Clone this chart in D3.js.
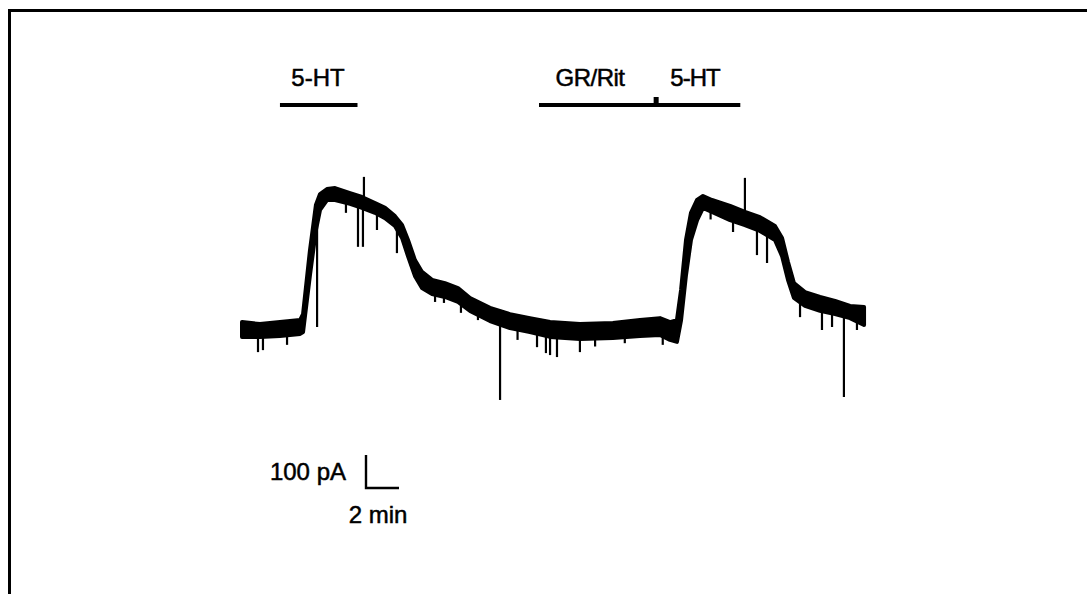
<!DOCTYPE html>
<html>
<head>
<meta charset="utf-8">
<script src="https://cdn.jsdelivr.net/npm/d3@7"></script>
<style>
  html, body { margin: 0; padding: 0; background: #fff; }
  svg { display: block; }
</style>
</head>
<body>
<svg id="chart" width="1087" height="594"></svg>
<script>
// ---- Data (time in minutes, current in pA relative to baseline) ----
const traceTime  = [0, 1.09, 2.30, 3.52, 3.70, 4.12, 4.48, 4.73, 5.15, 5.64, 6.55, 7.27, 8.06, 8.67, 9.27, 9.70, 10.06, 10.48, 10.91, 11.52, 12.30, 13.09, 13.82, 15.03, 16.24, 17.45, 18.67, 20.48, 22.48, 24.12, 25.33, 25.94, 26.36, 26.61, 26.91, 27.21, 27.58, 27.94, 28.48, 29.58, 30.48, 31.39, 32.30, 32.73, 33.09, 33.45, 34.12, 35.03, 35.94, 36.85, 37.70];
const traceUpper = [24, 18, 24, 30, 48, 242, 379, 412, 427, 430, 415, 403, 385, 370, 345, 318, 273, 212, 176, 152, 142, 127, 97, 67, 48, 36, 24, 18, 21, 30, 36, 24, 30, 121, 273, 355, 394, 406, 394, 376, 358, 342, 315, 279, 206, 142, 115, 100, 88, 73, 70];
const traceLower = [-21, -21, -18, -12, -6, 167, 303, 364, 394, 394, 382, 370, 355, 339, 315, 279, 224, 164, 127, 109, 100, 85, 58, 27, 6, -6, -21, -27, -24, -18, -15, -30, -36, 30, 167, 273, 333, 370, 358, 333, 318, 300, 273, 224, 152, 97, 73, 58, 48, 36, 15];

// transient spikes: time, start value, tip value
const spikeTime  = [0.97, 1.27, 2.73, 4.55, 6.30, 7.03, 7.33, 7.39, 8.18, 9.39, 11.70, 12.24, 13.27, 14.30, 15.64, 16.70, 17.88, 18.42, 18.67, 19.09, 20.48, 21.40, 23.20, 25.50, 28.40, 29.76, 30.48, 31.21, 31.82, 33.82, 35.15, 35.76, 36.48, 37.27];
const spikeFrom  = [-15, -15, -15, 330, 390, 380, 380, 400, 360, 320, 115, 110, 90, 60, 30, 10, 0, 0, 0, 0, -10, -10, -10, -10, 360, 340, 350, 310, 300, 90, 60, 55, 45, 40];
const spikeTip   = [-67, -61, -45, 9, 355, 252, 252, 464, 303, 233, 85, 82, 52, 30, -212, -30, -52, -70, -76, -82, -67, -50, -40, -45, 335, 297, 461, 227, 203, 39, 0, 9, -203, 0];

// drug application bars (minutes)
const barLabels = ["5-HT", "GR/Rit", "5-HT"];
const barStart  = [2.3, 18.0];
const barEnd    = [7.0, 30.2];
const markTime  = 25.1;   // small mark on second bar (5-HT onset)

// scale bar
const scaleMinutes = 2;
const scalePA = 100;
const scaleLabelY = "100 pA";
const scaleLabelX = "2 min";

// ---- Drawing ----
const svg = d3.select("#chart");
const x = d3.scaleLinear().domain([0, 40]).range([242, 242 + 40 * 16.5]);
const y = d3.scaleLinear().domain([0, 450]).range([330, 330 - 450 * 0.33]);

// frame (top and left edges)
svg.append("line").attr("x1", 9).attr("x2", 1087).attr("y1", 10.5).attr("y2", 10.5)
  .attr("stroke", "#000").attr("stroke-width", 3);
svg.append("line").attr("x1", 9.5).attr("x2", 9.5).attr("y1", 9).attr("y2", 594)
  .attr("stroke", "#000").attr("stroke-width", 3);

const font = "'Liberation Sans', Arial, sans-serif";
function label(tx, ty, anchor, size, txt, ls) {
  svg.append("text").attr("x", tx).attr("y", ty).attr("text-anchor", anchor)
    .attr("font-family", font).attr("font-size", size)
    .attr("letter-spacing", ls || 0)
    .attr("stroke", "#000").attr("stroke-width", 0.5).attr("fill", "#000").text(txt);
}

// trace band
const pts = traceTime.map((t, i) => ({ t, hi: traceUpper[i], lo: traceLower[i] }));
const area = d3.area().x(d => x(d.t)).y0(d => y(d.lo)).y1(d => y(d.hi));
svg.append("path").datum(pts).attr("d", area)
  .attr("fill", "#000").attr("stroke", "#000").attr("stroke-width", 4).attr("stroke-linejoin", "round");

// spikes
svg.selectAll("line.spike").data(spikeTime).join("line").attr("class", "spike")
  .attr("x1", d => x(d)).attr("x2", d => x(d))
  .attr("y1", (d, i) => y(spikeFrom[i])).attr("y2", (d, i) => y(spikeTip[i]))
  .attr("stroke", "#000").attr("stroke-width", 2.2);

// application bars
const barY = 105;
barStart.forEach((s, i) => {
  svg.append("line").attr("x1", x(s)).attr("x2", x(barEnd[i])).attr("y1", barY).attr("y2", barY)
    .attr("stroke", "#000").attr("stroke-width", 4);
});
svg.append("rect").attr("x", x(markTime) - 2.5).attr("y", barY - 8).attr("width", 5).attr("height", 8).attr("fill", "#000");

label(318, 86, "middle", 24, barLabels[0]);
label(590, 86, "middle", 24, barLabels[1], -0.5);
label(695, 86, "middle", 24, barLabels[2], -1);

// scale bar
const sx0 = 366, sy0 = 488;
const sxLen = x(scaleMinutes) - x(0);
const syLen = y(0) - y(scalePA);
svg.append("path")
  .attr("d", `M${sx0},${sy0 - syLen} L${sx0},${sy0} L${sx0 + sxLen},${sy0}`)
  .attr("fill", "none").attr("stroke", "#000").attr("stroke-width", 2.4);
label(346, 480, "end", 24, scaleLabelY);
label(378, 523, "middle", 24, scaleLabelX);
</script>
</body>
</html>
